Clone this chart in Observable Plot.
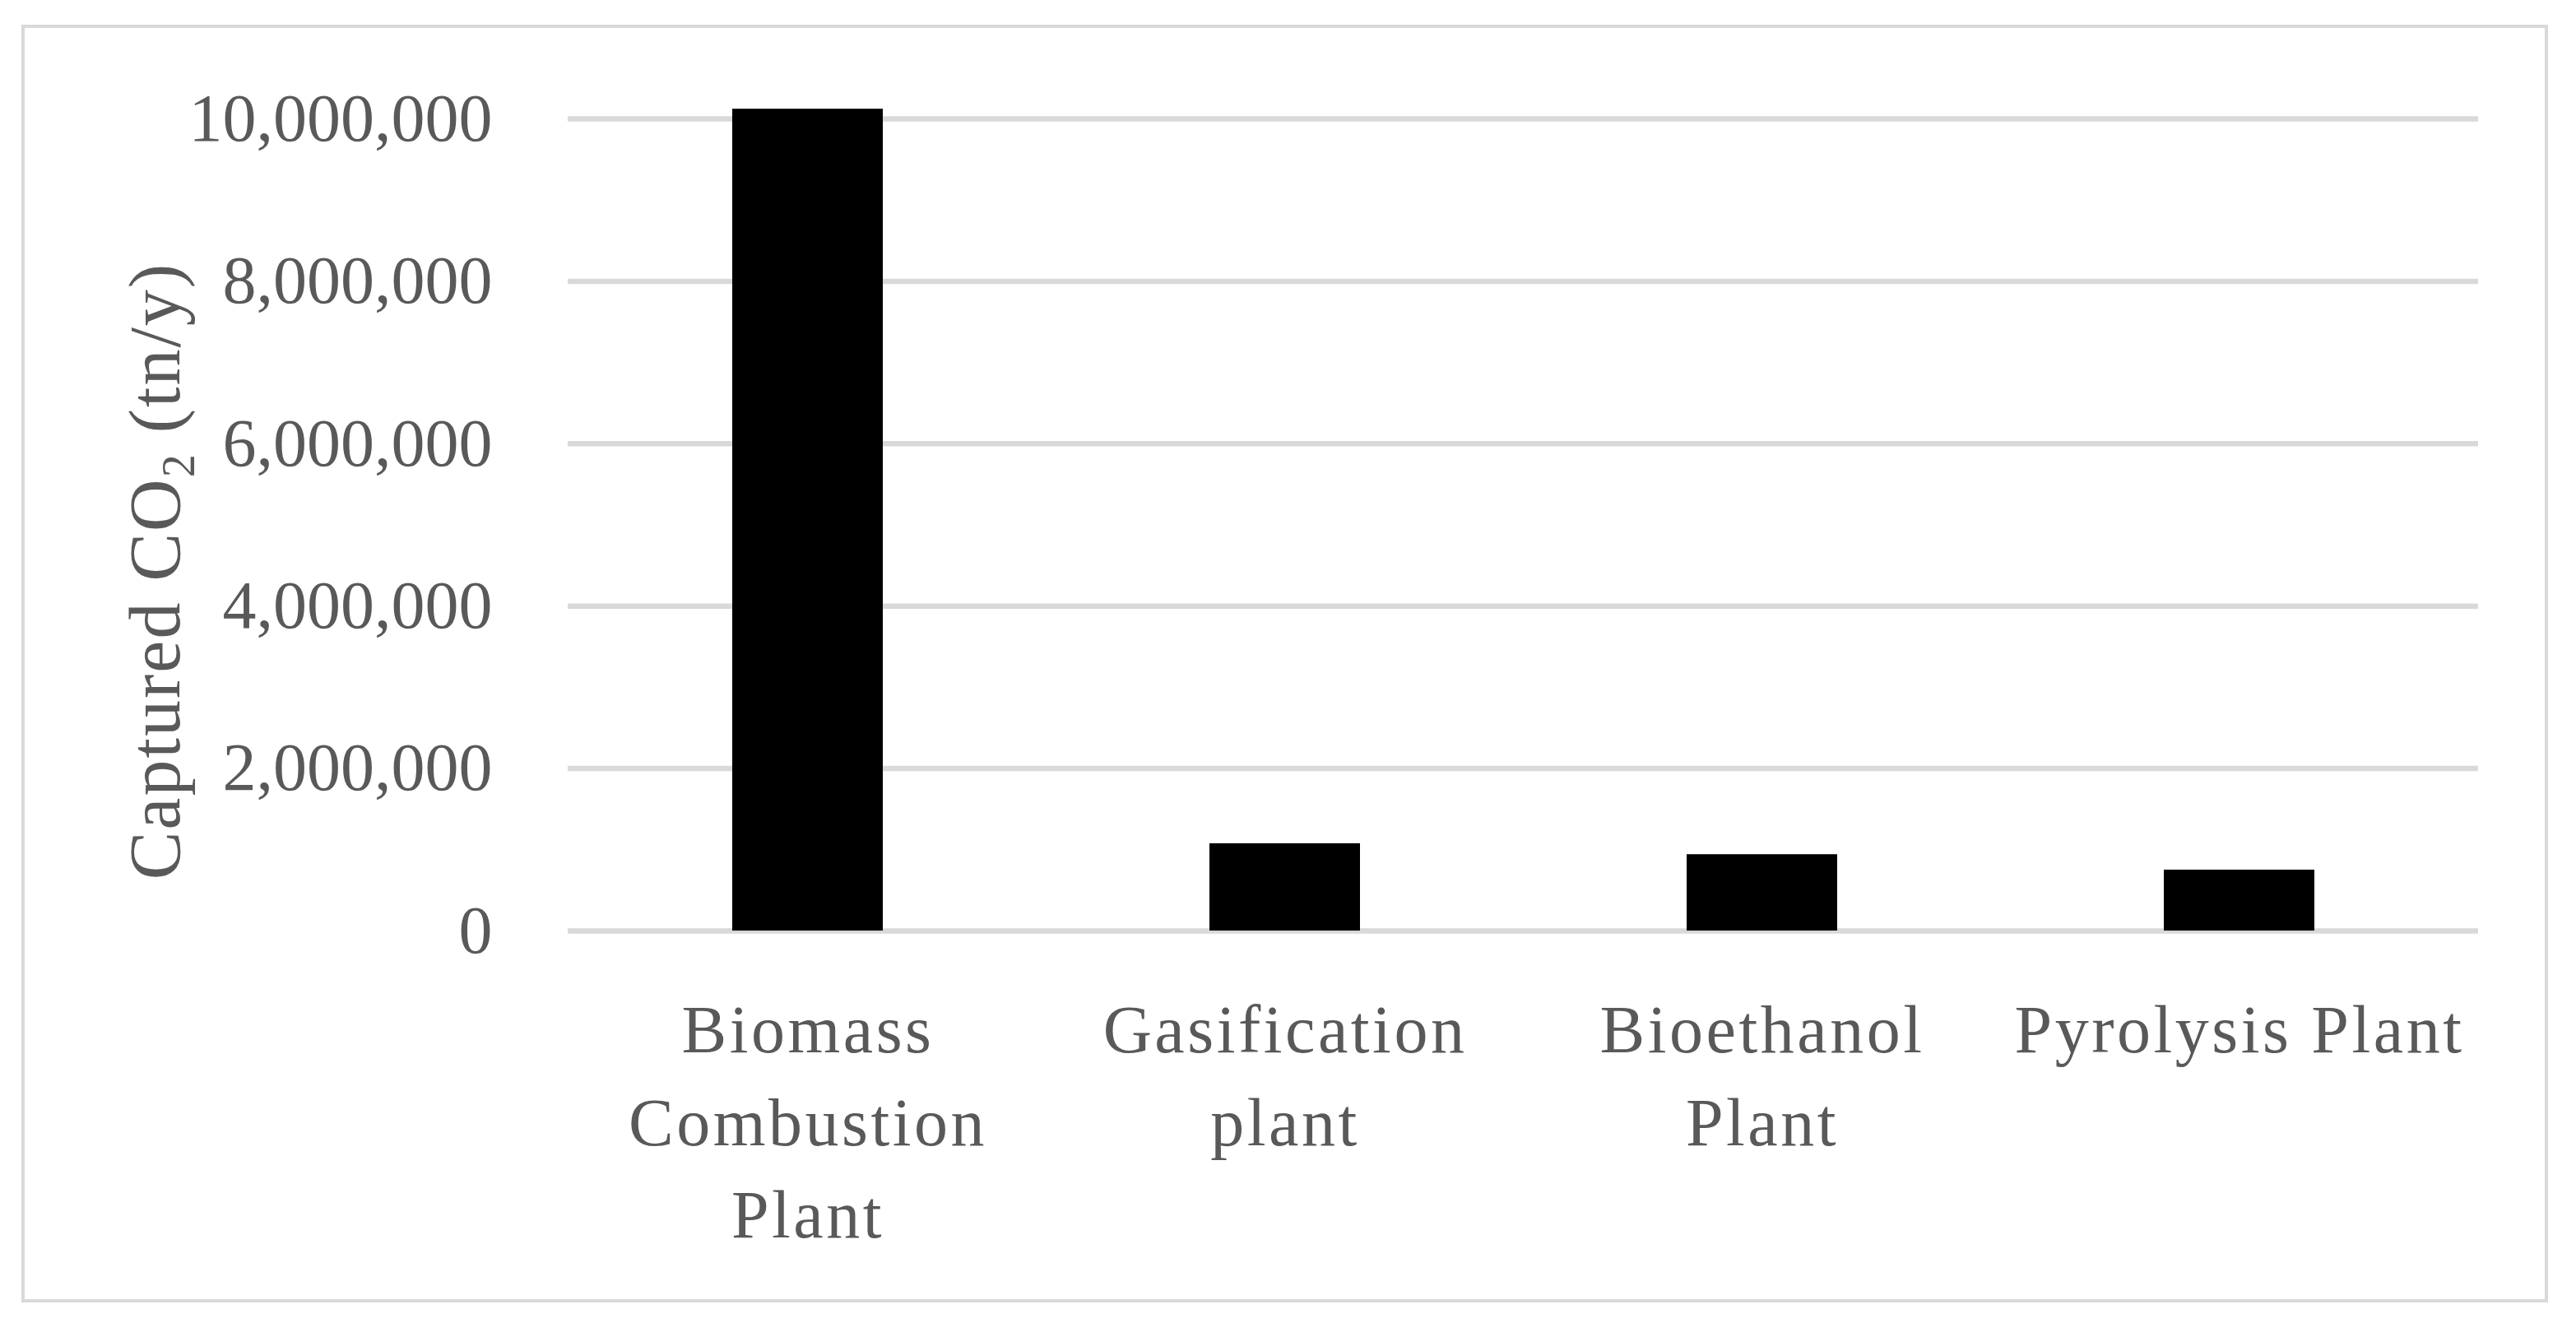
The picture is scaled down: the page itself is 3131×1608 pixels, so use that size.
<!DOCTYPE html>
<html><head><meta charset="utf-8">
<script src="https://cdn.jsdelivr.net/npm/d3@7"></script>
<script src="https://cdn.jsdelivr.net/npm/@observablehq/plot@0.6"></script>
<style>body{margin:0;background:#fff} #chart{width:3131px;height:1608px}</style>
</head><body><div id="chart"></div>
<script>
const categories = ["Biomass Combustion Plant", "Gasification plant", "Bioethanol Plant", "Pyrolysis Plant"];
const tickLabels = ["Biomass\nCombustion\nPlant", "Gasification\nplant", "Bioethanol\nPlant", "Pyrolysis Plant"];
const capturedCO2 = [10120000, 1075000, 940000, 750000];
const yTicks = [0, 2000000, 4000000, 6000000, 8000000, 10000000];

const data = categories.map((c, i) => ({category: c, value: capturedCO2[i]}));
const font = "'Liberation Serif', serif";
const grey = "#595959";

const plot = Plot.plot({
  width: 3131, height: 1608,
  marginLeft: 690, marginRight: 119, marginTop: 144, marginBottom: 477,
  style: {fontFamily: font, background: "white", color: grey, overflow: "visible"},
  x: {domain: categories, paddingInner: 0.685, paddingOuter: 0.3425, label: null},
  y: {domain: [0, 10000000], label: null},
  marks: [
    Plot.gridY(yTicks, {stroke: "#d9d9d9", strokeOpacity: 1, strokeWidth: 6.5}),
    Plot.barY(data, {x: "category", y: "value", fill: "black"}),
    Plot.axisY(yTicks, {tickSize: 0, tickPadding: 92, fontSize: 82, fill: grey, tickFormat: d3.format(","), label: null}),
    Plot.axisX({tickSize: 0, tickPadding: 68, fontSize: 82, lineHeight: 1.37, fill: grey,
      tickFormat: d => tickLabels[categories.indexOf(d)], label: null})
  ]
});
document.getElementById("chart").appendChild(plot);

const svg = d3.select(plot);
svg.selectAll('g[aria-label="x-axis tick label"] text').style("letter-spacing", "3.5px");
svg.append("rect")
  .attr("x", 28).attr("y", 32).attr("width", 3067).attr("height", 1549)
  .attr("fill", "none").attr("stroke", "#d9d9d9").attr("stroke-width", 4);
const lab = svg.append("text")
  .attr("transform", "translate(218,694) rotate(-90)")
  .attr("text-anchor", "middle")
  .attr("font-family", font).attr("font-size", 88).attr("fill", grey)
  .style("letter-spacing", "2px");
lab.append("tspan").text("Captured CO");
lab.append("tspan").attr("font-size", 56).attr("dy", 18).text("2");
lab.append("tspan").attr("dy", -18).text(" (tn/y)");
</script>
</body></html>
